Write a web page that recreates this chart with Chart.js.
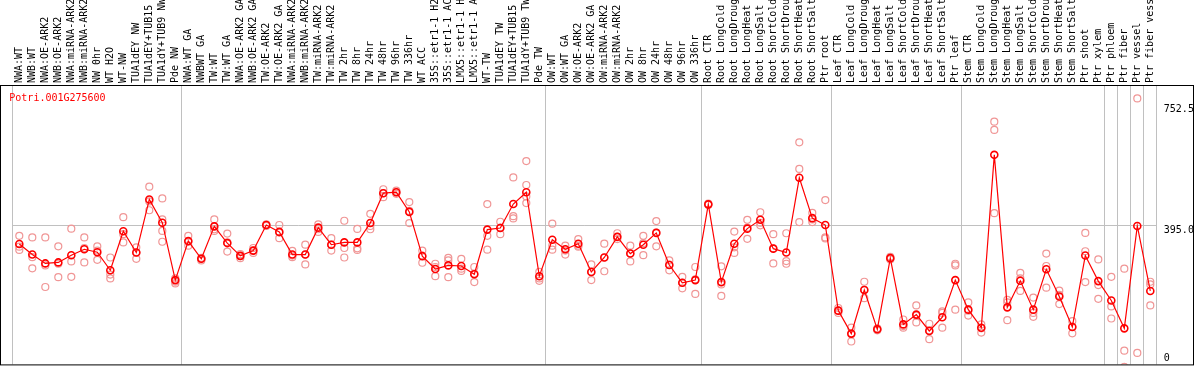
<!DOCTYPE html>
<html>
<head>
<meta charset="utf-8">
<script src="https://cdn.jsdelivr.net/npm/chart.js@4.4.1/dist/chart.umd.min.js"></script>
<style>
html,body{margin:0;padding:0;background:#ffffff;}
#wrap{width:1194px;height:370px;position:relative;}
</style>
</head>
<body>
<div id="wrap"><canvas id="c" width="1194" height="370"></canvas></div>
<script>
const geneId = 'Potri.001G275600';

const categories = [
  'NWA:WT','NWB:WT','NWA:OE-ARK2','NWB:OE-ARK2','NWA:miRNA-ARK2','NWB:miRNA-ARK2','NW 0hr','WT H2O','WT-NW','TUA1dEY NW',
  'TUA1dEY+TUB15','TUA1dY+TUB9 NW','Pde NW','NWA:WT GA','NWBWT GA','TW:WT','TW:WT GA','NWA:OE-ARK2 GA','NWB:OE-ARK2 GA','TW:OE-ARK2',
  'TW:OE-ARK2 GA','NWA:miRNA-ARK2','NWB:miRNA-ARK2','TW:miRNA-ARK2','TW:miRNA-ARK2','TW 2hr','TW 8hr','TW 24hr','TW 48hr','TW 96hr',
  'TW 336hr','WT ACC','35S::etr1-1 H2O','35S::etr1-1 ACC','LMX5::etr1-1 H2O','LMX5::etr1-1 ACC','WT-TW','TUA1dEY TW','TUA1dEY+TUB15','TUA1dY+TUB9 TW',
  'Pde TW','OW:WT','OW:WT GA','OW:OE-ARK2','OW:OE-ARK2 GA','OW:miRNA-ARK2','OW:miRNA-ARK2','OW 2hr','OW 8hr','OW 24hr',
  'OW 48hr','OW 96hr','OW 336hr','Root CTR','Root LongCold','Root LongDrought','Root LongHeat','Root LongSalt','Root ShortCold','Root ShortDrought',
  'Root ShortHeat','Root ShortSalt','Ptr root','Leaf CTR','Leaf LongCold','Leaf LongDrought','Leaf LongHeat','Leaf LongSalt','Leaf ShortCold','Leaf ShortDrought',
  'Leaf ShortHeat','Leaf ShortSalt','Ptr leaf','Stem CTR','Stem LongCold','Stem LongDrought','Stem LongHeat','Stem LongSalt','Stem ShortCold','Stem ShortDrought',
  'Stem ShortHeat','Stem ShortSalt','Ptr shoot','Ptr xylem','Ptr phloem','Ptr fiber','Ptr vessel','Ptr fiber vessel'
];

const meanValues = [
  344.3,314.9,290.0,292.8,313.0,329.6,321.3,270.7,380.1,320.4,
  469.3,404.0,243.2,352.6,302.9,393.9,347.0,311.2,325.9,397.6,
  378.3,314.9,314.9,390.2,342.4,348.9,348.9,403.1,486.8,489.5,
  434.4,310.3,274.4,284.5,282.7,259.7,384.7,389.3,456.4,489.5,
  254.2,356.2,329.6,345.2,266.1,306.6,364.5,317.6,342.4,375.5,
  285.4,235.8,243.2,455.5,237.6,345.2,387.5,412.3,331.4,320.4,
  530.0,416.9,397.6,157.7,93.3,215.6,105.3,304.8,119.1,146.6,
  100.7,139.3,243.2,160.4,109.9,594.3,166.9,241.3,160.4,273.5,
  197.2,111.7,312.1,240.4,186.2,108.0,395.0,212.8
];

const rep1 = [
  367.3,362.7,362.7,337.8,387.5,362.7,337.8,306.6,419.7,335.1,
  505.2,472.1,247.8,367.3,305.7,413.2,373.7,315.8,333.2,399.4,
  397.6,325.0,342.4,399.4,360.8,409.6,386.6,428.9,497.8,494.1,
  461.9,325.9,289.1,305.7,302.9,279.9,456.4,406.8,530.9,576.9,
  266.1,401.3,339.7,358.1,287.3,345.2,374.6,339.7,367.3,408.6,
  298.3,252.3,279.9,457.4,281.8,379.2,412.3,433.4,371.9,374.6,
  629.3,431.6,467.5,165.0,109.9,238.6,108.0,308.4,132.8,172.4,
  120.9,155.8,289.1,180.6,119.1,687.2,188.0,263.4,194.4,317.6,
  213.7,128.2,375.5,301.1,252.3,275.3,752.5,238.6
];

const rep2 = [
  336.9,307.5,284.5,289.1,295.6,333.2,325.9,258.8,371.9,320.4,
  463.8,413.2,238.6,350.7,302.9,385.7,348.9,310.3,325.9,397.6,
  376.4,312.1,314.9,385.7,342.4,333.2,332.3,394.8,486.8,489.5,
  437.1,312.1,279.9,298.3,275.3,261.5,367.3,390.2,422.4,509.8,
  247.8,339.7,325.9,339.7,266.1,306.6,364.5,317.6,347.0,376.4,
  286.4,235.8,245.0,455.5,231.2,335.1,390.2,404.0,332.3,296.5,
  554.8,413.2,362.7,157.7,91.5,215.6,105.3,304.8,114.5,143.9,
  102.5,151.2,284.5,157.7,108.0,664.2,180.6,247.8,151.2,282.7,
  201.8,112.6,324.1,229.4,169.6,45.5,39.1,231.2
];

const rep3 = [
  327.7,276.3,223.9,251.4,252.3,292.8,300.1,247.8,348.9,302.9,
  439.0,381.1,234.0,339.7,298.3,381.1,323.1,304.8,319.5,394.8,
  360.8,307.5,287.3,378.3,325.9,306.6,327.7,385.7,475.7,484.9,
  403.1,291.9,254.2,251.4,268.9,237.6,328.6,371.9,416.0,477.6,
  241.3,328.6,314.9,336.9,243.2,268.0,358.1,295.6,313.0,337.8,
  270.7,220.2,204.5,453.7,199.0,319.5,359.0,396.7,290.0,289.1,
  405.9,405.9,359.9,151.2,71.2,192.6,102.5,301.1,109.9,124.6,
  77.7,109.9,160.4,143.9,96.1,430.7,131.0,212.8,140.2,222.0,
  176.0,94.2,237.6,190.8,135.6,0,null,172.4
];

const rep4 = [
  null,null,null,null,null,null,null,null,null,null,
  null,350.7,null,null,null,null,null,null,null,null,
  null,null,null,null,null,null,null,null,null,null,
  null,null,null,null,null,null,null,null,null,459.2,
  null,null,null,null,null,null,null,null,null,null,
  null,null,null,null,null,null,null,null,null,null,
  null,null,null,null,null,null,null,null,null,null,
  null,null,null,null,null,null,null,null,null,null,
  null,null,null,null,null,null,null,null
];

// group separators (index of first category in a group)
const separatorIdx = [0,13,41,53,63,73,84,85,86,87];
const yTickValues = [0, 395.0, 752.5];
const yMin = 7;
const yMax = 790;

const MONO = '"DejaVu Sans Mono", monospace';

const framePlugin = {
  id: 'frame',
  afterDraw(chart) {
    const {ctx, chartArea: a, width, scales} = chart;
    ctx.save();
    ctx.strokeStyle = '#000000';
    ctx.lineWidth = 1;
    ctx.strokeRect(0.5, a.top + 0.5, width - 1, a.bottom - a.top);
    ctx.font = '10px ' + MONO;
    ctx.textAlign = 'left';
    ctx.textBaseline = 'alphabetic';
    ctx.fillStyle = '#ff0000';
    ctx.fillText(geneId, a.left - 3.5, a.top + 15.5);
    ctx.fillStyle = '#000000';
    yTickValues.forEach(v => {
      const p = scales.y.getPixelForValue(v);
      const base = Math.min(Math.max(p + 7.5, a.top + 26.5), a.bottom - 3.5);
      ctx.fillText(v === 0 ? '0' : v.toFixed(1), a.right + 7, base);
    });
    ctx.restore();
  }
};

const repStyle = {
  showLine: false,
  borderColor: '#f09696',
  backgroundColor: 'rgba(0,0,0,0)',
  pointBorderColor: '#f09696',
  pointBackgroundColor: 'rgba(0,0,0,0)',
  pointRadius: 3.5,
  pointBorderWidth: 1.2,
  order: 2
};

new Chart(document.getElementById('c').getContext('2d'), {
  type: 'line',
  data: {
    labels: categories,
    datasets: [
      {
        label: 'mean',
        data: meanValues,
        borderColor: '#ff0000',
        borderWidth: 1.2,
        pointBorderColor: '#ff0000',
        pointBackgroundColor: 'rgba(0,0,0,0)',
        pointRadius: 3.5,
        pointBorderWidth: 1.6,
        tension: 0,
        fill: false,
        order: 0
      },
      Object.assign({label: 'rep 1', data: rep1}, repStyle),
      Object.assign({label: 'rep 2', data: rep2}, repStyle),
      Object.assign({label: 'rep 3', data: rep3}, repStyle),
      Object.assign({label: 'rep 4', data: rep4}, repStyle)
    ]
  },
  options: {
    responsive: false,
    animation: false,
    layout: {padding: {left: 12.8, right: 37.2, top: 0, bottom: 1}},
    plugins: {
      legend: {display: false},
      tooltip: {enabled: false},
      title: {display: false}
    },
    scales: {
      x: {
        type: 'category',
        position: 'top',
        offset: true,
        border: {display: false},
        grid: {
          offset: true,
          drawTicks: false,
          lineWidth: 1,
          color: (c) => (c.type !== 'tick' || separatorIdx.includes(c.index)) ? '#c0c0c0' : 'rgba(0,0,0,0)'
        },
        ticks: {
          autoSkip: false,
          maxRotation: 90,
          minRotation: 90,
          padding: 2,
          labelOffset: 12,
          color: '#000000',
          font: {family: MONO, size: 10}
        },
        afterFit: (s) => { s.height = 85; s.paddingLeft = 0; s.paddingRight = 0; }
      },
      y: {
        type: 'linear',
        position: 'right',
        min: yMin,
        max: yMax,
        border: {display: false},
        afterBuildTicks: (s) => { s.ticks = [{value: yTickValues[1]}]; },
        grid: {drawTicks: false, color: '#c0c0c0', lineWidth: 1},
        ticks: {display: false},
        afterFit: (s) => { s.width = 0; }
      }
    }
  },
  plugins: [framePlugin]
});
</script>
</body>
</html>
